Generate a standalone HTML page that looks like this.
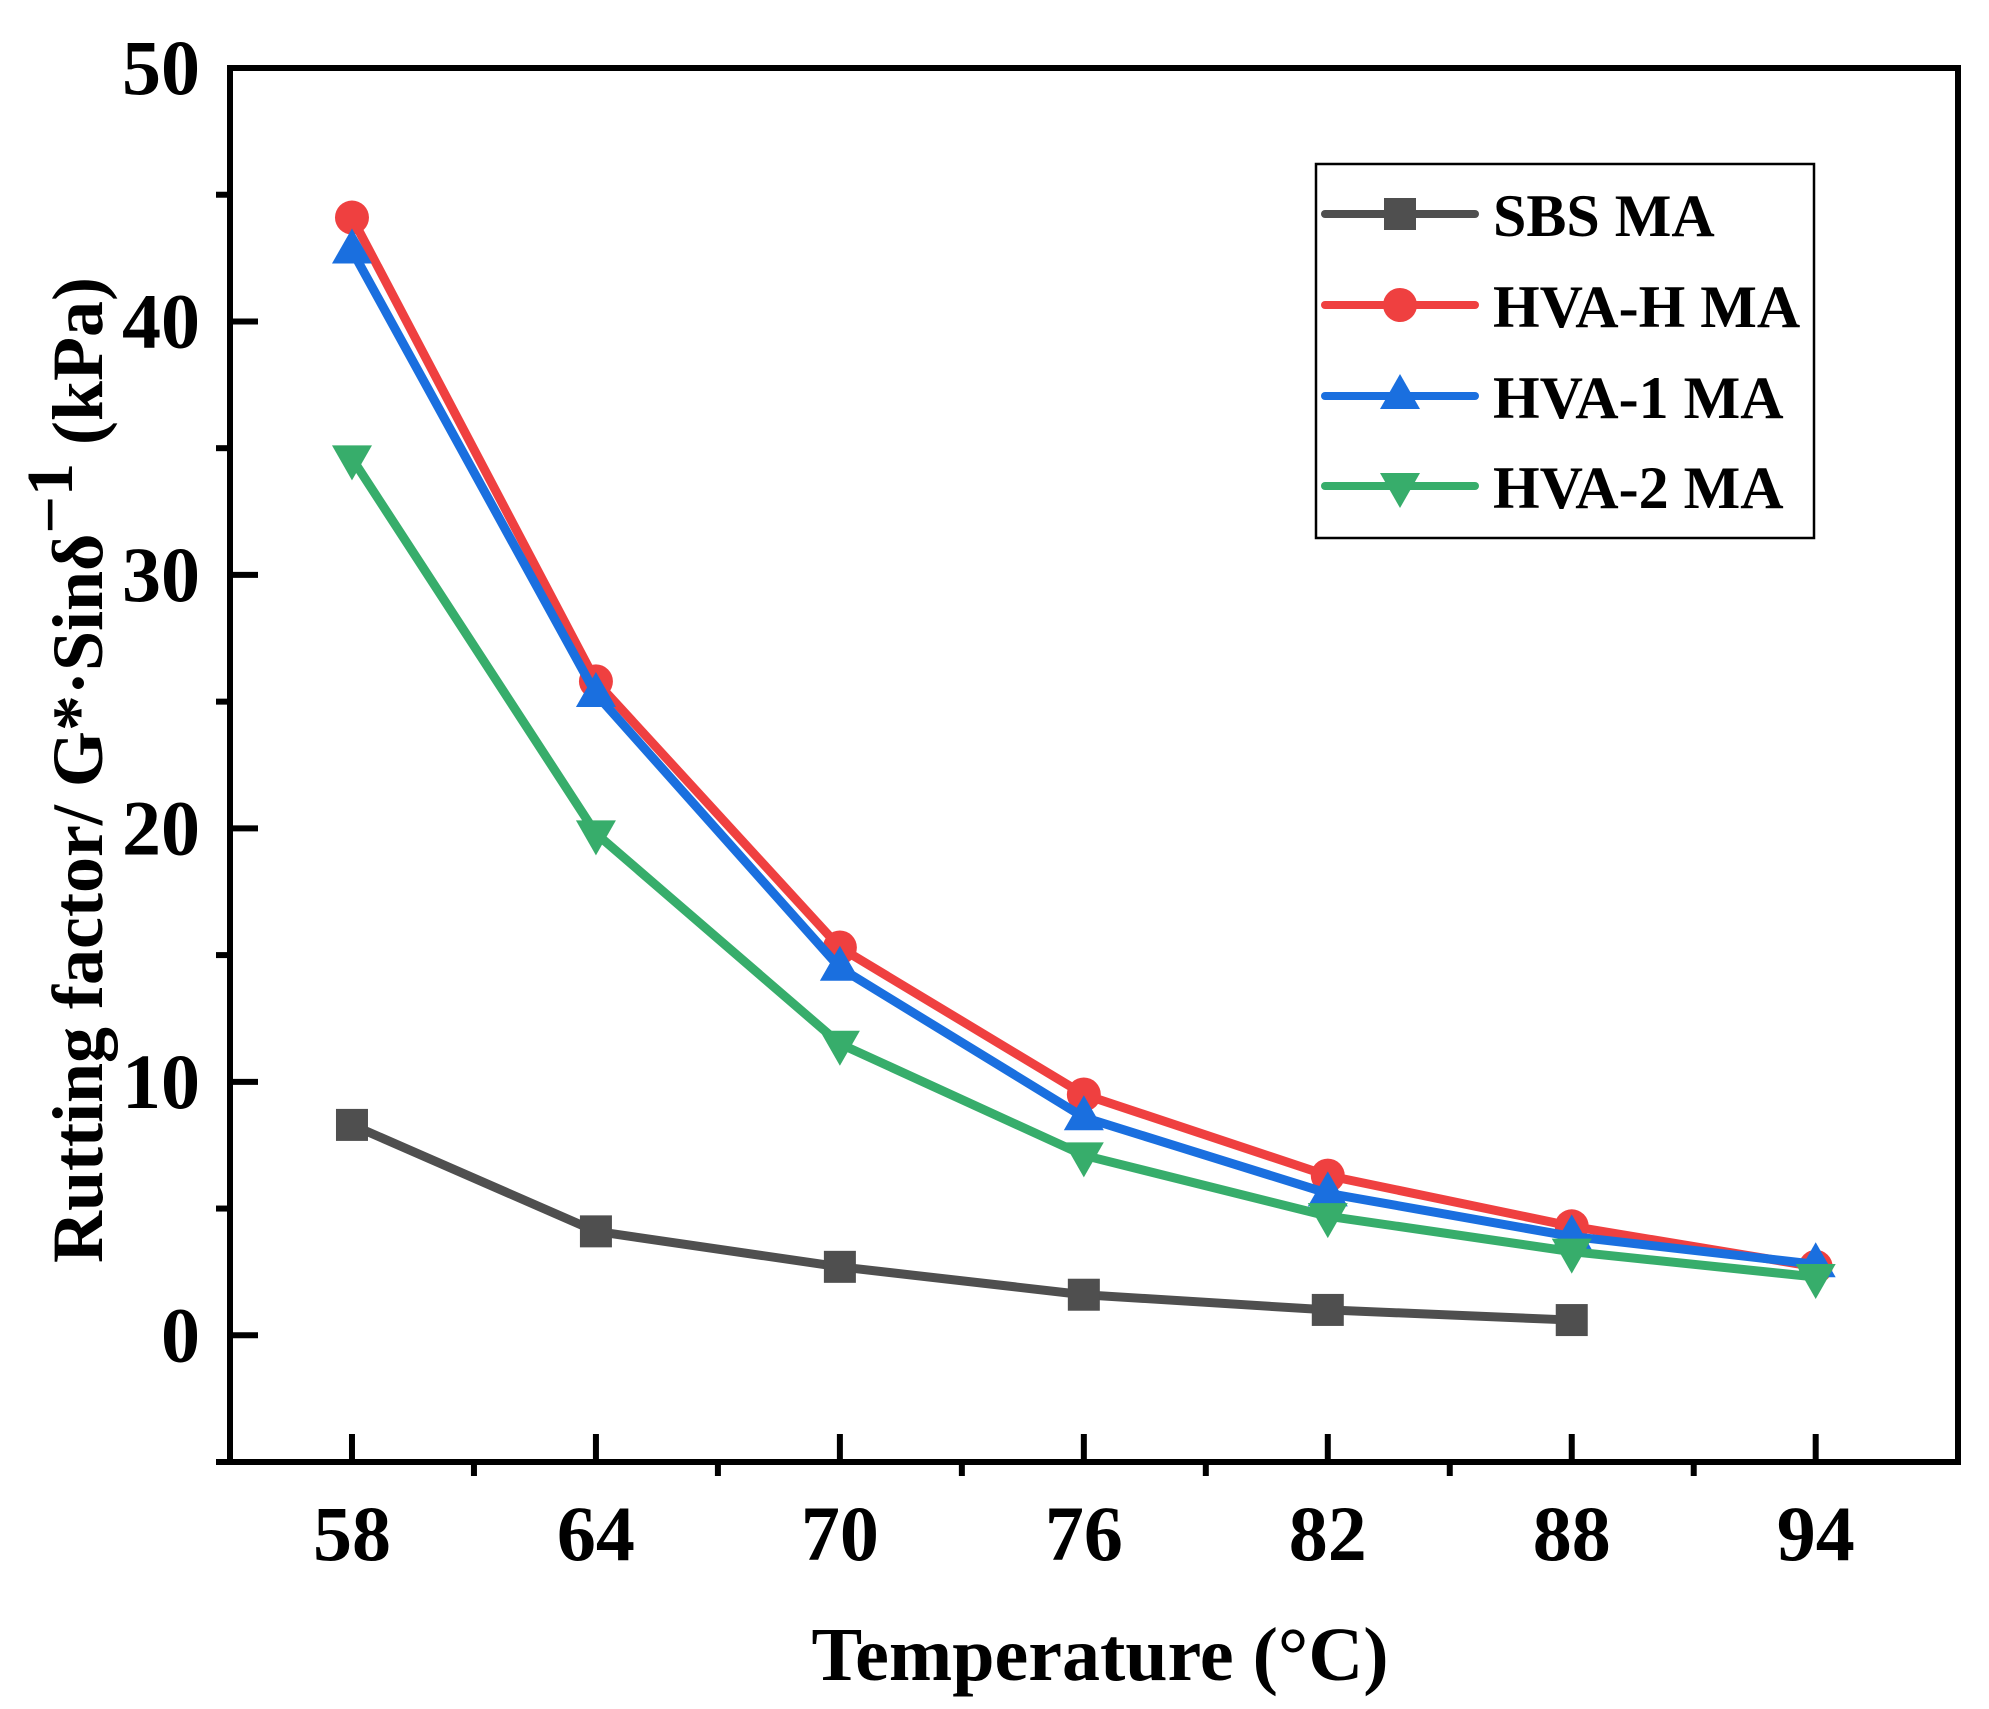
<!DOCTYPE html>
<html><head><meta charset="utf-8"><style>
html,body{margin:0;padding:0;background:#fff;}
svg{display:block;font-family:"Liberation Serif",serif;font-weight:bold;}
</style></head><body>
<svg id="chart" width="1989" height="1709" viewBox="0 0 1989 1709" xmlns="http://www.w3.org/2000/svg">
<g id="plot"></g>
</svg>
<script>
const temps = [58, 64, 70, 76, 82, 88, 94];
const sbs = [8.3, 4.1, 2.7, 1.6, 1.0, 0.6];
const hvaH = [44.1, 25.8, 15.3, 9.5, 6.3, 4.3, 2.7];
const hva1 = [42.8, 25.3, 14.5, 8.6, 5.6, 3.9, 2.8];
const hva2 = [34.6, 19.8, 11.5, 7.1, 4.7, 3.3, 2.3];
const yTicks = [0, 10, 20, 30, 40, 50];
const yMinor = [-5, 5, 15, 25, 35, 45];
const xMinor = [61, 67, 73, 79, 85, 91];
const seriesNames = ["SBS MA", "HVA-H MA", "HVA-1 MA", "HVA-2 MA"];

const L=230, R=1958, T=68, B=1462;
const xMin=55, xMax=97.5, yMin=-5, yMax=50;
const X = v => L + (v - xMin) / (xMax - xMin) * (R - L);
const Y = v => B - (v - yMin) / (yMax - yMin) * (B - T);
const NS = "http://www.w3.org/2000/svg";
const g = document.getElementById('plot');
function mk(tag, attrs, parent) {
  const e = document.createElementNS(NS, tag);
  for (const k in attrs) e.setAttribute(k, attrs[k]);
  (parent || g).appendChild(e);
  return e;
}

const styles = [
  {data: sbs, color: "#4f4f4f", marker: "square"},
  {data: hvaH, color: "#ef4040", marker: "circle"},
  {data: hva1, color: "#1a6fdf", marker: "up"},
  {data: hva2, color: "#37ad6b", marker: "down"}
];
function marker(type, cx, cy, color, parent) {
  let e;
  if (type === "square") e = mk('rect', {x: cx-16, y: cy-16, width: 32, height: 32, fill: color}, parent);
  else if (type === "circle") e = mk('circle', {cx: cx, cy: cy, r: 17, fill: color}, parent);
  else if (type === "up") e = mk('polygon', {points: `${cx},${cy-22} ${cx-20},${cy+13} ${cx+20},${cy+13}`, fill: color}, parent);
  else e = mk('polygon', {points: `${cx},${cy+22} ${cx-20},${cy-13} ${cx+20},${cy-13}`, fill: color}, parent);
  return e;
}

styles.forEach((s, si) => {
  const sg = mk('g', {});
  
  
  const pts = s.data.map((v, i) => X(temps[i]) + ',' + Y(v)).join(' ');
  const line = mk('polyline', {points: pts, fill: 'none', stroke: s.color, 'stroke-width': 9, 'stroke-linejoin': 'round'}, sg);
  
  
  s.data.forEach((v, i) => {
    const m = marker(s.marker, X(temps[i]), Y(v), s.color, sg);
    
    
  });
});

const frame = mk('rect', {x: L, y: T, width: R-L, height: B-T, fill: 'none', stroke: '#000', 'stroke-width': 6});



yTicks.forEach(v => {
  const t = mk('line', {x1: L, x2: L+28, y1: Y(v), y2: Y(v), stroke: '#000', 'stroke-width': 6});
  
  
  const lb = mk('text', {x: 200, y: Y(v)+26, 'text-anchor': 'end', 'font-size': 78});
  lb.textContent = v;
  
  
});
yMinor.forEach(v => {
  const t = mk('line', {x1: L-14, x2: L, y1: Y(v), y2: Y(v), stroke: '#000', 'stroke-width': 6});
  
  
});
temps.forEach(v => {
  const t = mk('line', {x1: X(v), x2: X(v), y1: B, y2: B-28, stroke: '#000', 'stroke-width': 6});
  
  
  const lb = mk('text', {x: X(v), y: 1560, 'text-anchor': 'middle', 'font-size': 78});
  lb.textContent = v;
  
  
});
xMinor.forEach(v => {
  const t = mk('line', {x1: X(v), x2: X(v), y1: B, y2: B+14, stroke: '#000', 'stroke-width': 6});
  
  
});

const xt = mk('text', {x: 1100, y: 1680, 'text-anchor': 'middle', 'font-size': 76});
xt.textContent = "Temperature (°C)";



const yt = mk('text', {x: 0, y: 0, 'text-anchor': 'middle', 'font-size': 72, transform: 'translate(102,770) rotate(-90)'});


yt.innerHTML = 'Rutting factor/ G*·Sinδ<tspan dy="-30" font-size="66">−1</tspan><tspan dy="30"> (kPa)</tspan>';

const lg = mk('g', {});


const lbox = mk('rect', {x: 1316, y: 164, width: 498, height: 374, fill: '#fff', stroke: '#000', 'stroke-width': 2.5}, lg);


const ly = [214, 305, 396, 486];
styles.forEach((s, i) => {
  const eg = mk('g', {}, lg);
  
  
  mk('line', {x1: 1325, x2: 1475, y1: ly[i], y2: ly[i], stroke: s.color, 'stroke-width': 8, 'stroke-linecap': 'round'}, eg);
  marker(s.marker, 1400, ly[i], s.color, eg);
  const t = mk('text', {x: 1493, y: ly[i]+22, 'font-size': 60}, eg);
  t.textContent = seriesNames[i];
});
</script>
</body></html>
